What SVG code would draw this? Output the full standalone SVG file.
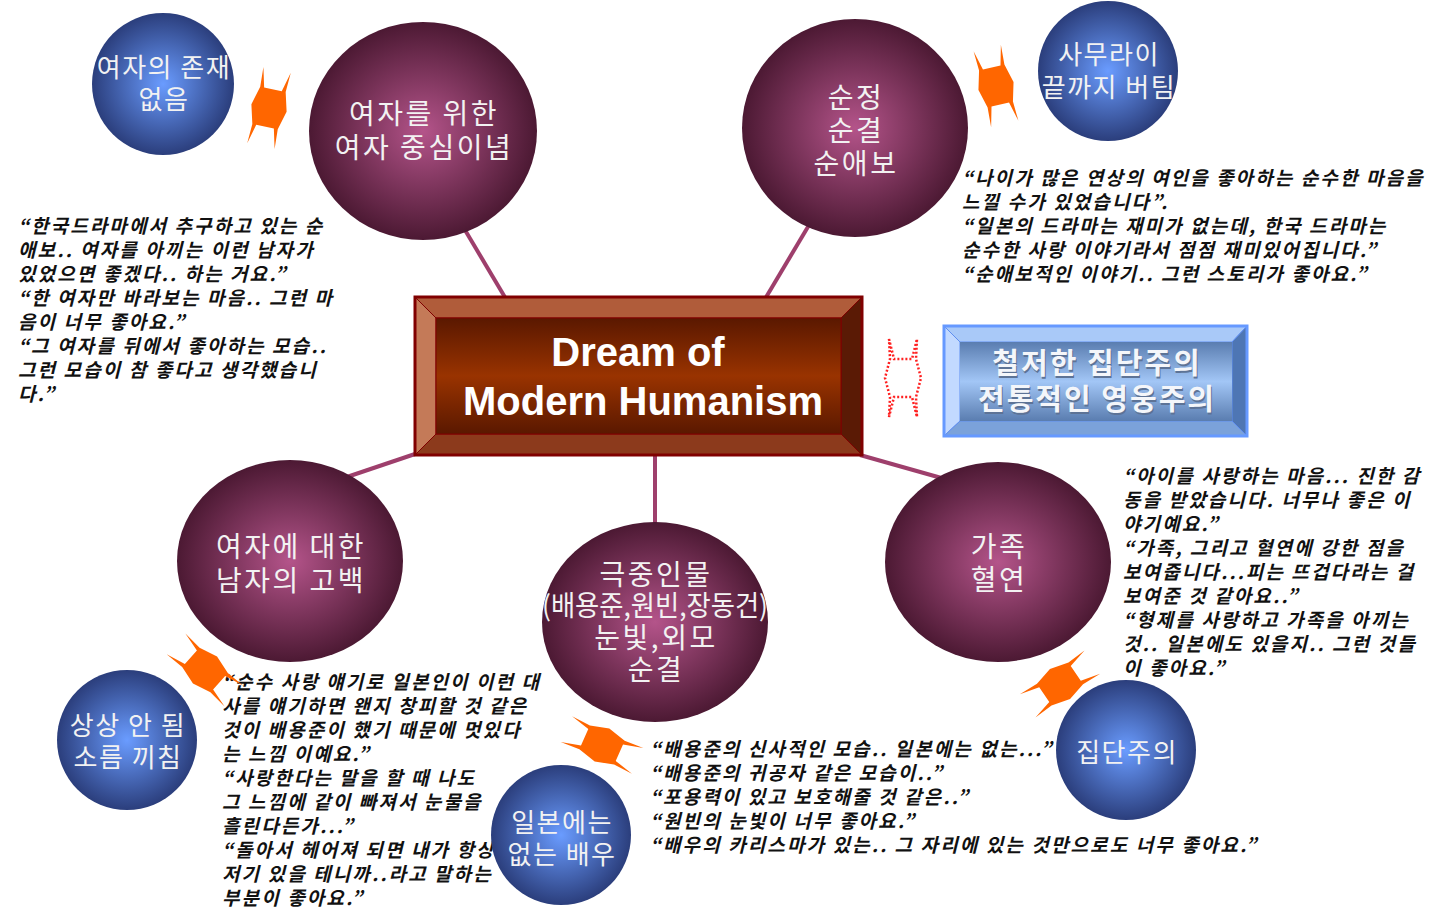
<svg xmlns="http://www.w3.org/2000/svg" width="1439" height="913" viewBox="0 0 1439 913">
<style>
.conn{stroke:#9e3f6c;stroke-width:4;fill:none}
.maroon{fill:url(#gMaroon)}
.blue{fill:url(#gBlue)}
.ct{font-family:"Noto Sans CJK KR","Noto Sans",sans-serif;font-size:28px;fill:#f2f2f2;text-anchor:middle;letter-spacing:2.5px}
.bt{font-family:"Noto Sans CJK KR","Noto Sans",sans-serif;font-size:26px;fill:#f2f2f2;text-anchor:middle;letter-spacing:1.5px}
.q{font-family:"Noto Sans CJK KR","Noto Sans",sans-serif;font-size:19px;font-style:italic;font-weight:bold;fill:#111;letter-spacing:2.1px}
.orange{fill:#ff6600}
.reddot{fill:none;stroke:#ff2020;stroke-width:2.5;stroke-dasharray:2 2}
.title{font-family:"Liberation Sans",Arial,sans-serif;font-weight:bold;font-size:40px;fill:#ffffff;text-anchor:middle}
.btxt{font-family:"Noto Sans CJK KR","Noto Sans",sans-serif;font-size:29px;font-weight:bold;fill:#f4f6fa;text-anchor:middle;letter-spacing:2px}
.bshadow{font-family:"Noto Sans CJK KR","Noto Sans",sans-serif;font-size:29px;font-weight:bold;fill:#5d7396;text-anchor:middle;letter-spacing:2px}
</style>
<defs>
<radialGradient id="gMaroon" cx="50%" cy="50%" r="50%">
<stop offset="0%" stop-color="#b4548a"/>
<stop offset="100%" stop-color="#4c1933"/>
</radialGradient>
<radialGradient id="gBlue" cx="50%" cy="50%" r="50%">
<stop offset="0%" stop-color="#6a9cff"/>
<stop offset="100%" stop-color="#2b3e7c"/>
</radialGradient>
<linearGradient id="gFace" x1="0" y1="0" x2="0" y2="1">
<stop offset="0%" stop-color="#5a1800"/>
<stop offset="50%" stop-color="#993300"/>
<stop offset="100%" stop-color="#5a1800"/>
</linearGradient>
<linearGradient id="gBlueFace" x1="0" y1="0" x2="0" y2="1">
<stop offset="0%" stop-color="#5a7db0"/>
<stop offset="50%" stop-color="#a2c6f6"/>
<stop offset="100%" stop-color="#5a7db0"/>
</linearGradient>
<path id="dbl" d="M -14,-39 L -9,-19 L 9,-19 L 14,-39 L 13,-19 L 18,0 L 13,19 L 14,39 L 9,19 L -9,19 L -14,39 L -13,19 L -18,0 L -13,-19 Z"/>
</defs>
<rect width="1439" height="913" fill="#ffffff"/>

<g id="connectors">
<line class="conn" x1="462" y1="225" x2="506" y2="299"/>
<line class="conn" x1="815" y1="215" x2="765" y2="299"/>
<line class="conn" x1="418" y1="453" x2="335" y2="481"/>
<line class="conn" x1="655" y1="455" x2="655" y2="525"/>
<line class="conn" x1="860" y1="455" x2="945" y2="479"/>
</g>

<g id="node-women-ideology">
<ellipse class="maroon" cx="423" cy="131" rx="114" ry="109"/>
<text class="ct" x="424" y="124">여자를 위한</text>
<text class="ct" x="424" y="158">여자 중심이념</text>
</g>
<g id="node-pure-love">
<ellipse class="maroon" cx="855" cy="128" rx="113" ry="109"/>
<text class="ct" x="856" y="108">순정</text>
<text class="ct" x="856" y="141">순결</text>
<text class="ct" x="856" y="174">순애보</text>
</g>
<g id="node-confession">
<ellipse class="maroon" cx="290" cy="561" rx="113" ry="101"/>
<text class="ct" x="291" y="557">여자에 대한</text>
<text class="ct" x="291" y="591">남자의 고백</text>
</g>
<g id="node-characters">
<ellipse class="maroon" cx="655" cy="622" rx="113" ry="100"/>
<text class="ct" x="656" y="585">극중인물</text>
<text class="ct" x="655" y="616" textLength="226" lengthAdjust="spacingAndGlyphs" style="letter-spacing:0">(배용준,원빈,장동건)</text>
<text class="ct" x="656" y="648">눈빛,외모</text>
<text class="ct" x="656" y="680">순결</text>
</g>
<g id="node-family">
<ellipse class="maroon" cx="998" cy="562" rx="113" ry="100"/>
<text class="ct" x="999" y="557">가족</text>
<text class="ct" x="999" y="590">혈연</text>
</g>

<g id="node-center">
<polygon points="415,297 862,297 841,318 436,318" fill="#b05c3a" stroke="#800000" stroke-width="1"/>
<polygon points="415,297 436,318 436,434 415,455" fill="#c47a58" stroke="#800000" stroke-width="1"/>
<polygon points="862,297 862,455 841,434 841,318" fill="#5a1a05" stroke="#800000" stroke-width="1"/>
<polygon points="415,455 436,434 841,434 862,455" fill="#8c3a1c" stroke="#800000" stroke-width="1"/>
<rect x="436" y="318" width="405" height="116" fill="url(#gFace)" stroke="#800000" stroke-width="1"/>
<rect x="415" y="297" width="447" height="158" fill="none" stroke="#800000" stroke-width="3"/>
<text class="title" x="638" y="366">Dream of</text>
<text class="title" x="643" y="415">Modern Humanism</text>
</g>

<g id="quote-topleft" class="q">
<text x="18" y="233">“한국드라마에서 추구하고 있는 순</text>
<text x="18" y="257">애보.. 여자를 아끼는 이런 남자가</text>
<text x="18" y="281">있었으면 좋겠다.. 하는 거요.”</text>
<text x="18" y="305">“한 여자만 바라보는 마음.. 그런 마</text>
<text x="18" y="329">음이 너무 좋아요.”</text>
<text x="18" y="353">“그 여자를 뒤에서 좋아하는 모습..</text>
<text x="18" y="377">그런 모습이 참 좋다고 생각했습니</text>
<text x="18" y="401">다.”</text>
</g>
<g id="quote-topright" class="q">
<text x="962" y="185">“나이가 많은 연상의 여인을 좋아하는 순수한 마음을</text>
<text x="962" y="209">느낄 수가 있었습니다”.</text>
<text x="962" y="233">“일본의 드라마는 재미가 없는데, 한국 드라마는</text>
<text x="962" y="257">순수한 사랑 이야기라서 점점 재미있어집니다.”</text>
<text x="962" y="281">“순애보적인 이야기.. 그런 스토리가 좋아요.”</text>
</g>
<g id="quote-right" class="q">
<text x="1123" y="483">“아이를 사랑하는 마음... 진한 감</text>
<text x="1123" y="507">동을 받았습니다. 너무나 좋은 이</text>
<text x="1123" y="531">야기예요.”</text>
<text x="1123" y="555">“가족, 그리고 혈연에 강한 점을</text>
<text x="1123" y="579">보여줍니다...피는 뜨겁다라는 걸</text>
<text x="1123" y="603">보여준 것 같아요..”</text>
<text x="1123" y="627">“형제를 사랑하고 가족을 아끼는</text>
<text x="1123" y="651">것.. 일본에도 있을지.. 그런 것들</text>
<text x="1123" y="675">이 좋아요.”</text>
</g>
<g id="quote-bottomleft" class="q">
<text x="222" y="689">“순수 사랑 얘기로 일본인이 이런 대</text>
<text x="222" y="713">사를 얘기하면 왠지 창피할 것 같은</text>
<text x="222" y="737">것이 배용준이 했기 때문에 멋있다</text>
<text x="222" y="761">는 느낌 이예요.”</text>
<text x="222" y="785">“사랑한다는 말을 할 때 나도</text>
<text x="222" y="809">그 느낌에 같이 빠져서 눈물을</text>
<text x="222" y="833">흘린다든가...”</text>
<text x="222" y="857">“돌아서 헤어져 되면 내가 항상</text>
<text x="222" y="881">저기 있을 테니까..라고 말하는</text>
<text x="222" y="905">부분이 좋아요.”</text>
</g>
<g id="quote-bottom" class="q">
<text x="650" y="756">“배용준의 신사적인 모습.. 일본에는 없는...”</text>
<text x="650" y="780">“배용준의 귀공자 같은 모습이..”</text>
<text x="650" y="804">“포용력이 있고 보호해줄 것 같은..”</text>
<text x="650" y="828">“원빈의 눈빛이 너무 좋아요.”</text>
<text x="650" y="852">“배우의 카리스마가 있는.. 그 자리에 있는 것만으로도 너무 좋아요.”</text>
</g>

<g id="node-no-women">
<circle class="blue" cx="163" cy="84" r="71"/>
<text class="bt" x="164" y="77">여자의 존재</text>
<text class="bt" x="164" y="109">없음</text>
</g>
<g id="node-samurai">
<circle class="blue" cx="1108" cy="71" r="70"/>
<text class="bt" x="1109" y="64">사무라이</text>
<text class="bt" x="1109" y="97">끝까지 버팀</text>
</g>
<g id="node-unimaginable">
<circle class="blue" cx="127" cy="740" r="70"/>
<text class="bt" x="128" y="735">상상 안 됨</text>
<text class="bt" x="128" y="767">소름 끼침</text>
</g>
<g id="node-no-actor">
<circle class="blue" cx="561" cy="835" r="70"/>
<text class="bt" x="562" y="832">일본에는</text>
<text class="bt" x="562" y="864">없는 배우</text>
</g>
<g id="node-collectivism">
<circle class="blue" cx="1126" cy="750" r="70"/>
<text class="bt" x="1127" y="762">집단주의</text>
</g>

<g id="node-contrast">
<polygon points="944,326 1247,326 1232,342 960,342" fill="#a9c9f8" stroke="#5f8ef0" stroke-width="1"/>
<polygon points="944,326 960,342 960,421 944,436" fill="#c2d9ff" stroke="#5f8ef0" stroke-width="1"/>
<polygon points="1247,326 1247,436 1232,421 1232,342" fill="#4e76b4" stroke="#5f8ef0" stroke-width="1"/>
<polygon points="944,436 960,421 1232,421 1247,436" fill="#7ba2da" stroke="#5f8ef0" stroke-width="1"/>
<rect x="960" y="342" width="272" height="79" fill="url(#gBlueFace)"/>
<rect x="944" y="326" width="303" height="110" fill="none" stroke="#6699ff" stroke-width="3"/>
<text class="bshadow" x="1098" y="376">철저한 집단주의</text>
<text class="bshadow" x="1098" y="412">전통적인 영웅주의</text>
<text class="btxt" x="1097" y="374">철저한 집단주의</text>
<text class="btxt" x="1097" y="410">전통적인 영웅주의</text>
</g>

<g id="arrows">
<use href="#dbl" class="orange" transform="translate(269,108) rotate(12)"/>
<use href="#dbl" class="orange" transform="translate(996,86) rotate(-13)"/>
<use href="#dbl" class="orange" transform="translate(205,670) rotate(-48)"/>
<use href="#dbl" class="orange" transform="translate(602,745) rotate(-66)"/>
<use href="#dbl" class="orange" transform="translate(1060,684) rotate(56)"/>
<use href="#dbl" class="reddot" transform="translate(903,378)"/>
</g>
</svg>
